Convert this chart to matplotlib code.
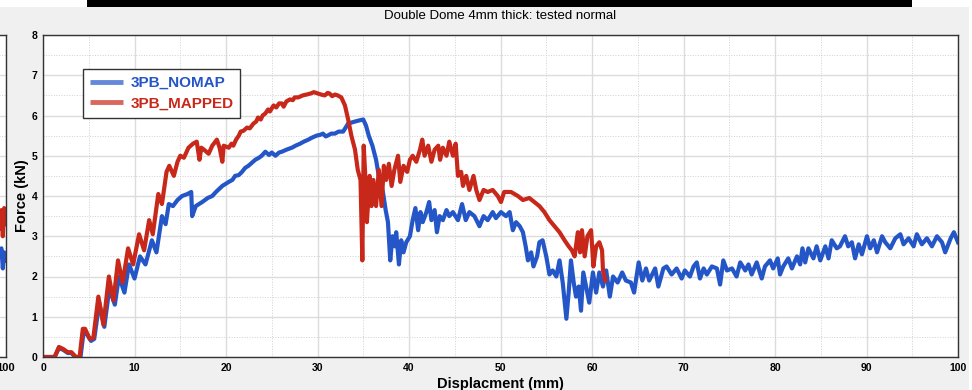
import matplotlib.pyplot as plt
from matplotlib.patches import Rectangle

plt.rcParams['font.family'] = ['Liberation Sans', 'DejaVu Sans']

# 3PB_NOMAP (blue)
nomap_x = [0, 1.27, 1.74, 2.2, 2.7, 3.1, 3.4, 3.6, 4.1, 4.45, 4.7, 5.25, 5.6, 6.15, 6.7, 7.25, 7.85,
           8.3, 8.9, 9.4, 10.0, 10.6, 11.2, 11.9, 12.4, 13.0, 13.4, 13.75, 14.2, 14.7, 15.2, 15.8,
           16.2, 16.3, 16.7, 17.4, 18.0, 18.5, 18.9, 19.6, 20.3, 20.7, 21.0, 21.4, 21.75, 22.1,
           22.45, 22.8, 23.2, 23.6, 23.9, 24.3, 24.7, 25.0, 25.4, 25.8, 26.1, 26.6, 27.2, 27.6,
           28.1, 28.5, 29.0, 29.4, 29.9, 30.3, 30.6, 30.9, 31.1, 31.5, 31.9, 32.3, 32.8, 33.35,
           34.1, 34.6, 35.0, 35.3, 35.6, 36.0, 36.4, 36.7, 37.15, 37.45, 37.7, 37.95, 38.2, 38.45,
           38.6, 38.9, 39.15, 39.4, 39.7, 40.1, 40.4, 40.7, 41.0, 41.25, 41.5, 41.9, 42.2, 42.45,
           42.8, 43.05, 43.35, 43.7, 44.1, 44.4, 44.8, 45.35, 45.8, 46.2, 46.6, 47.15, 47.7, 48.15,
           48.6, 49.15, 49.5, 50.05, 50.6, 51.0, 51.35, 51.7, 52.1, 52.45, 52.75, 53.0, 53.35,
           53.6, 54.0, 54.25, 54.6, 55.0, 55.35, 55.7, 56.1, 56.45, 56.8, 57.2, 57.45, 57.7, 58.0,
           58.25, 58.55, 58.8, 59.05, 59.35, 59.7, 60.1, 60.45, 60.8, 61.2, 61.55, 61.95, 62.3,
           62.8, 63.3, 63.7, 64.25, 64.6, 65.1, 65.5, 65.9, 66.25, 66.9, 67.25, 67.8, 68.15, 68.7,
           69.25, 69.8, 70.15, 70.7, 71.1, 71.45, 71.8, 72.2, 72.55, 73.1, 73.65, 74.0, 74.35,
           74.75, 75.3, 75.8, 76.2, 76.75, 77.1, 77.45, 78.0, 78.55, 78.9, 79.45, 79.8, 80.3,
           80.55, 80.9, 81.45, 81.85, 82.4, 82.75, 83.0, 83.3, 83.65, 84.2, 84.55, 84.95, 85.5,
           85.85, 86.2, 86.75, 87.1, 87.65, 88.0, 88.4, 88.75, 89.15, 89.5, 90.05, 90.4, 90.8,
           91.15, 91.7, 92.05, 92.6, 93.15, 93.7, 94.05, 94.6, 95.15, 95.5, 96.05, 96.6, 97.15,
           97.7, 98.25, 98.6, 99.2, 99.55, 100]
nomap_y = [0, 0, 0.22, 0.18, 0.1, 0.1, 0.03, 0, 0, 0.65, 0.6, 0.4, 0.45, 1.35, 0.75, 1.7, 1.3,
           2.0, 1.6, 2.3, 1.95, 2.5, 2.3, 2.9, 2.6, 3.5, 3.3, 3.8, 3.75, 3.9, 4.0, 4.05,
           4.1, 3.5, 3.75, 3.85, 3.95, 4.0, 4.1, 4.25, 4.35, 4.4, 4.5, 4.52, 4.6, 4.7,
           4.75, 4.82, 4.9, 4.95, 5.0, 5.1, 5.02, 5.08, 5.0, 5.08, 5.1, 5.15, 5.2, 5.25,
           5.3, 5.35, 5.4, 5.45, 5.5, 5.52, 5.55, 5.48, 5.5, 5.55, 5.55, 5.6, 5.6, 5.8,
           5.85, 5.88, 5.9, 5.75, 5.5, 5.25, 4.9, 4.5, 4.1, 3.65, 3.35, 2.4, 3.0, 2.75,
           3.1, 2.3, 2.9, 2.6, 2.85, 3.0, 3.4, 3.7, 3.15, 3.6, 3.35, 3.6, 3.85, 3.4,
           3.65, 3.1, 3.5, 3.4, 3.65, 3.5, 3.6, 3.4, 3.8, 3.4, 3.6, 3.5, 3.25, 3.5,
           3.4, 3.6, 3.45, 3.6, 3.5, 3.6, 3.15, 3.35, 3.25, 3.1, 2.75, 2.4, 2.6,
           2.25, 2.5, 2.85, 2.9, 2.5, 2.05, 2.15, 2.0, 2.4, 1.85, 0.95, 1.6, 2.4, 1.85,
           1.5, 1.75, 1.15, 2.1, 1.75, 1.35, 2.1, 1.6, 2.1, 1.75, 2.15, 1.5, 2.0,
           1.85, 2.1, 1.9, 1.85, 1.6, 2.35, 1.9, 2.2, 1.9, 2.2, 1.75, 2.2, 2.25, 2.05,
           2.2, 1.95, 2.15, 2.0, 2.25, 2.35, 1.95, 2.2, 2.05, 2.25, 2.2, 1.8, 2.4,
           2.15, 2.2, 2.0, 2.35, 2.15, 2.3, 2.05, 2.35, 1.95, 2.25, 2.4, 2.2, 2.45,
           2.05, 2.25, 2.45, 2.2, 2.5, 2.3, 2.7, 2.35, 2.7, 2.45, 2.75, 2.4, 2.75,
           2.45, 2.9, 2.7, 2.75, 3.0, 2.75, 2.85, 2.45, 2.8, 2.55, 3.0, 2.7, 2.9,
           2.6, 3.0, 2.85, 2.7, 2.95, 3.05, 2.8, 2.95, 2.75, 3.05, 2.8, 2.95, 2.75,
           3.0, 2.85, 2.6, 2.95, 3.1, 2.85]

# 3PB_MAPPED (red)
mapped_x = [0, 1.27, 1.74, 2.2, 2.7, 3.1, 3.4, 3.6, 4.0, 4.35, 4.6, 5.1, 5.5, 6.05, 6.6, 7.2, 7.7,
            8.2, 8.7, 9.3, 9.85, 10.5, 11.05, 11.6, 12.0, 12.6, 13.0, 13.5, 13.8, 14.3, 14.7,
            15.0, 15.4, 15.9, 16.4, 16.8, 17.1, 17.3, 17.6, 18.1, 18.5, 19.0, 19.3, 19.6, 19.75,
            20.3, 20.6, 20.8, 21.1, 21.4, 21.6, 21.9, 22.3, 22.6, 23.0, 23.3, 23.5, 23.8, 24.0,
            24.3, 24.6, 24.8, 25.2, 25.5, 25.8, 26.1, 26.3, 26.6, 27.0, 27.3, 27.5, 27.9, 28.4,
            28.8, 29.3, 29.6, 30.0, 30.4, 30.8, 31.1, 31.3, 31.6, 31.9, 32.2, 32.6, 33.0, 33.35,
            33.7, 34.1, 34.4, 34.7, 34.9, 35.05, 35.3, 35.4, 35.7, 35.9, 36.1, 36.4, 36.7, 37.0,
            37.25, 37.5, 37.8, 38.1, 38.4, 38.8, 39.05, 39.4, 39.8, 40.1, 40.4, 40.8, 41.2,
            41.45, 41.7, 42.1, 42.45, 42.8, 43.2, 43.4, 43.7, 44.1, 44.4, 44.8, 45.1, 45.35,
            45.7, 45.9, 46.25, 46.6, 47.05, 47.35, 47.7, 48.15, 48.6, 49.15, 49.7, 50.05, 50.4,
            51.15, 51.9, 52.45, 53.15, 53.7, 54.25, 54.8, 55.35, 55.9, 56.45, 57.0, 57.45, 57.8,
            58.1, 58.45, 58.7, 58.9, 59.2, 59.5, 59.9, 60.15, 60.45, 60.8, 61.1, 61.2, 61.45]
mapped_y = [0, 0, 0.25, 0.2, 0.12, 0.12, 0.05, 0, 0, 0.7, 0.7, 0.45, 0.47, 1.5, 0.8, 2.0, 1.4,
            2.4, 1.85, 2.7, 2.3, 3.05, 2.65, 3.4, 3.05, 4.05, 3.8, 4.6, 4.75, 4.5, 4.85,
            5.0, 4.95, 5.2, 5.3, 5.35, 4.9, 5.2, 5.15, 5.05, 5.25, 5.4, 5.2, 4.85, 5.25,
            5.2, 5.3, 5.25, 5.4, 5.5, 5.6, 5.62, 5.7, 5.68, 5.8, 5.85, 5.95, 5.9, 6.0,
            6.05, 6.15, 6.1, 6.25, 6.2, 6.3, 6.3, 6.22, 6.35, 6.4, 6.38, 6.45, 6.45, 6.5,
            6.52, 6.55, 6.58, 6.55, 6.52, 6.5, 6.56, 6.55, 6.48, 6.52, 6.5, 6.45, 6.25, 5.9,
            5.5, 5.15, 4.65, 4.4, 2.4, 5.25, 4.15, 3.35, 4.5, 3.75, 4.4, 3.75, 4.65, 3.75,
            4.75, 4.4, 4.8, 4.25, 4.65, 5.0, 4.35, 4.75, 4.6, 4.9, 5.0, 4.85, 5.15,
            5.4, 5.0, 5.25, 4.85, 5.15, 5.25, 4.9, 5.2, 5.0, 5.35, 5.0, 5.3, 4.5,
            4.6, 4.25, 4.5, 4.15, 4.5, 4.15, 3.9, 4.15, 4.1, 4.15, 4.0, 3.85, 4.1,
            4.1, 4.0, 3.9, 3.95, 3.85, 3.75, 3.6, 3.4, 3.25, 3.1, 2.9, 2.75, 2.65,
            2.5, 3.1, 2.6, 3.15, 2.5, 3.0, 3.15, 2.25, 2.75, 2.85, 2.65, 2.15, 1.9]

# tail of the neighbouring chart, cut off at the left edge
prev_x = [99.3, 99.5, 99.65, 99.8, 100]
prev_blue = [2.6, 2.7, 2.2, 2.6, 2.4]
prev_red = [3.2, 3.65, 3.0, 3.7, 3.3]

blue = '#2456c8'
red = '#c8281a'
W, H = 972, 390

fig = plt.figure(figsize=(W / 100, H / 100), dpi=100, facecolor='#f0f0f0')

# white strip and black bar along the top of the screenshot
fig.patches.append(Rectangle((0, 1 - 7 / H), 1, 7 / H, transform=fig.transFigure,
                             facecolor='white', edgecolor='none', zorder=0))
fig.patches.append(Rectangle((87 / W, 1 - 7 / H), (912 - 87) / W, 7 / H, transform=fig.transFigure,
                             facecolor='black', edgecolor='none', zorder=1))
fig.patches.append(Rectangle((969 / W, 0), 3 / W, 1, transform=fig.transFigure,
                             facecolor='white', edgecolor='none', zorder=0))


def style_axes(ax):
    ax.set_xlim(0, 100)
    ax.set_ylim(0, 8)
    ax.set_xticks(range(0, 101, 10))
    ax.set_yticks(range(0, 9))
    ax.set_xticks(range(5, 100, 10), minor=True)
    ax.set_yticks([i + 0.5 for i in range(8)], minor=True)
    ax.grid(True, which='major', color='#dcdcdc', linewidth=1)
    ax.grid(True, which='minor', color='#d0d0d0', linewidth=0.7, linestyle=':')
    ax.set_axisbelow(True)
    ax.tick_params(which='both', length=0, labelsize=7.5, pad=4)
    for lab in ax.get_xticklabels() + ax.get_yticklabels():
        lab.set_fontweight('bold')
    for s in ax.spines.values():
        s.set_color('#333333')
        s.set_linewidth(1)


ax0 = fig.add_axes([(6 - 915) / W, (H - 357) / H, 915 / W, 322 / H])
style_axes(ax0)
ax0.plot(prev_x, prev_blue, color=blue, linewidth=3)
ax0.plot(prev_x, prev_red, color=red, linewidth=3)
ax0.set_xticks([100])
ax0.set_xticklabels(['100'], fontweight='bold', fontsize=8)
ax0.set_yticklabels([])

ax = fig.add_axes([43 / W, (H - 357) / H, 915 / W, 322 / H])
style_axes(ax)
ax.plot(nomap_x, nomap_y, color=blue, linewidth=3, label='3PB_NOMAP')
ax.plot(mapped_x, mapped_y, color=red, linewidth=3, label='3PB_MAPPED')

ax.set_xlabel('Displacment (mm)', fontsize=10.5, fontweight='bold', labelpad=3)
ax.set_ylabel('Force (kN)', fontsize=10.5, fontweight='bold')
ax.yaxis.set_label_coords((29 - 43) / 915, 0.5)
fig.text(500 / W, 1 - 16 / H, 'Double Dome 4mm thick: tested normal', fontsize=9.5,
         ha='center', va='center')

leg = ax.legend(loc='upper left', bbox_to_anchor=((83 - 43) / 915, (357 - 69) / 322),
                borderaxespad=0, fancybox=False, framealpha=1, edgecolor='#333333',
                labelcolor='linecolor', prop={'weight': 'bold', 'size': 11},
                handlelength=2.2, handletextpad=0.45, borderpad=0.45, labelspacing=0.45)
leg.get_frame().set_linewidth(1)
for ln in leg.get_lines():
    ln.set_alpha(0.7)
    ln.set_linewidth(3.5)
    ln.set_solid_capstyle('butt')

fig.savefig('out.png', dpi=100, facecolor=fig.get_facecolor())
